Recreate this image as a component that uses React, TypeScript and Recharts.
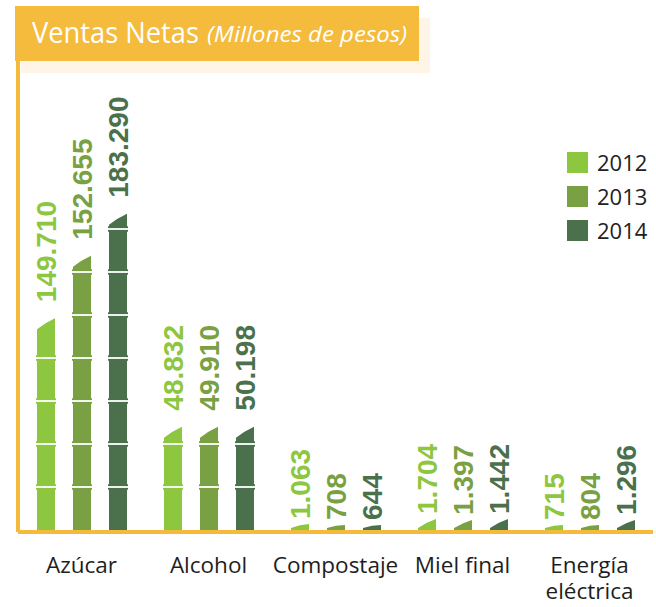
import React from "react";
import { BarChart, Bar, XAxis, YAxis, Legend, LabelList } from "recharts";

// categories and series
const categories = ["Azúcar", "Alcohol", "Compostaje", "Miel final", "Energía eléctrica"];
const years = ["2012", "2013", "2014"];
const colors = ["#8DC63F", "#79A143", "#4A714B"];

// net sales in millions of pesos (the printed labels)
const sales2012 = [149710, 48832, 1063, 1704, 715];
const sales2013 = [152655, 49910, 708, 1397, 804];
const sales2014 = [183290, 50198, 644, 1442, 1296];

// bar lengths as drawn in the infographic (not to scale), relative: tallest bar = 100
const height2012 = [67.2, 33.1, 2.5, 4.1, 2.2];
const height2013 = [86.8, 33.1, 2.2, 3.8, 2.2];
const height2014 = [100, 33.1, 2.2, 4.1, 3.8];

const ORANGE = "#F5BA3A";

const data = categories.map((name, i) => ({
  name,
  h2012: height2012[i],
  h2013: height2013[i],
  h2014: height2014[i],
  s2012: sales2012[i],
  s2013: sales2013[i],
  s2014: sales2014[i],
}));

const fmt = (n: number) => String(n).replace(/\B(?=(\d{3})+(?!\d))/g, ".");

const BambooBar = (props: any) => {
  const { x, y, width: w, height: h, fill } = props;
  const base = y + h - 2;
  const top = y;
  const hh = base - top;
  if (!(hh > 0)) return null;
  const slant = Math.min(11, Math.max(hh - 2, 0));
  const yL = top + slant;
  const nodes: number[] = [];
  for (let k = 1; base - 43 * k > yL + 4; k++) nodes.push(base - 43 * k);
  return (
    <g>
      <path
        d={`M${x},${base} L${x},${yL} Q${x + w / 2},${top + slant / 2 - 1.5} ${x + w},${top} L${x + w},${base} Z`}
        fill={fill}
      />
      {nodes.map((ny) => (
        <g key={ny}>
          <rect x={x - 1} y={ny - 3} width={w + 2} height={6} rx={1} fill={fill} />
          <rect x={x - 1} y={ny - 1} width={w + 2} height={2} fill="#ffffff" opacity={0.9} />
        </g>
      ))}
    </g>
  );
};

const makeLabel = (color: string) => (props: any) => {
  const { x, y, width, height, value } = props;
  const cx = x + width / 2;
  const gap = height > 40 ? 16 : 5;
  return (
    <text
      transform={`translate(${cx + 9.5},${y - gap}) rotate(-90)`}
      fontFamily="'Liberation Sans', Arial, sans-serif"
      fontWeight="bold"
      fontSize={28}
      fill={color}
    >
      {fmt(Number(value))}
    </text>
  );
};

const CategoryTick = (props: any) => {
  const { x, y, payload } = props;
  const label: string = payload.value;
  const lines = label.length > 12 ? label.split(" ") : [label];
  return (
    <g>
      {lines.map((l, i) => (
        <text
          key={l}
          x={x}
          y={y + 33 + i * 26}
          textAnchor="middle"
          fontFamily="'Open Sans', sans-serif"
          fontSize={22.5}
          fill="#1e1e1e"
        >
          {l}
        </text>
      ))}
    </g>
  );
};

const YearLegend = () => (
  <div>
    {years.map((yr, i) => (
      <div key={yr} style={{ display: "flex", alignItems: "center", height: 34 }}>
        <span style={{ width: 21, height: 21, background: colors[i], display: "block", marginRight: 9 }} />
        <span style={{ fontFamily: "'Open Sans', sans-serif", fontSize: 22, color: "#222", lineHeight: "21px" }}>
          {yr}
        </span>
      </div>
    ))}
  </div>
);

export default function App() {
  return (
    <div style={{ position: "relative", width: 656, height: 607, background: "#fff" }}>
      <style>{"body{margin:0}"}</style>
      <BarChart
        width={656}
        height={607}
        data={data}
        margin={{ top: 61, right: 3, left: 17, bottom: 0 }}
        barSize={18}
        barGap={18}
      >
        <XAxis
          dataKey="name"
          interval={0}
          height={75}
          tickLine={false}
          axisLine={{ stroke: ORANGE, strokeWidth: 4 }}
          tick={<CategoryTick />}
        />
        <YAxis
          width={1}
          domain={[0, 148]}
          tick={false}
          tickLine={false}
          axisLine={{ stroke: ORANGE, strokeWidth: 4 }}
        />
        <Legend
          layout="vertical"
          align="center"
          verticalAlign="middle"
          wrapperStyle={{ position: "absolute", left: 567, top: 145, width: 90, height: 110 }}
          content={<YearLegend />}
        />
        {years.map((yr, i) => (
          <Bar
            key={yr}
            name={yr}
            dataKey={`h${yr}`}
            fill={colors[i]}
            shape={<BambooBar />}
            isAnimationActive={false}
          >
            <LabelList dataKey={`s${yr}`} content={makeLabel(colors[i])} />
          </Bar>
        ))}
      </BarChart>
      <svg
        width={656}
        height={80}
        style={{ position: "absolute", left: 0, top: 0, pointerEvents: "none" }}
      >
        <rect x={21} y={18} width={409} height={55} fill="#FEF5E6" />
        <rect x={15} y={6} width={404} height={55} fill="#F4BB3D" />
        <text x={32} y={43} fontFamily="'Open Sans', sans-serif" fontSize={29} fill="#fff" textLength={167} lengthAdjust="spacingAndGlyphs">
          Ventas Netas
        </text>
        <text x={207} y={42} fontFamily="'Open Sans', sans-serif" fontStyle="italic" fontSize={21} fill="#fff" textLength={200} lengthAdjust="spacingAndGlyphs">
          (Millones de pesos)
        </text>
      </svg>
    </div>
  );
}
